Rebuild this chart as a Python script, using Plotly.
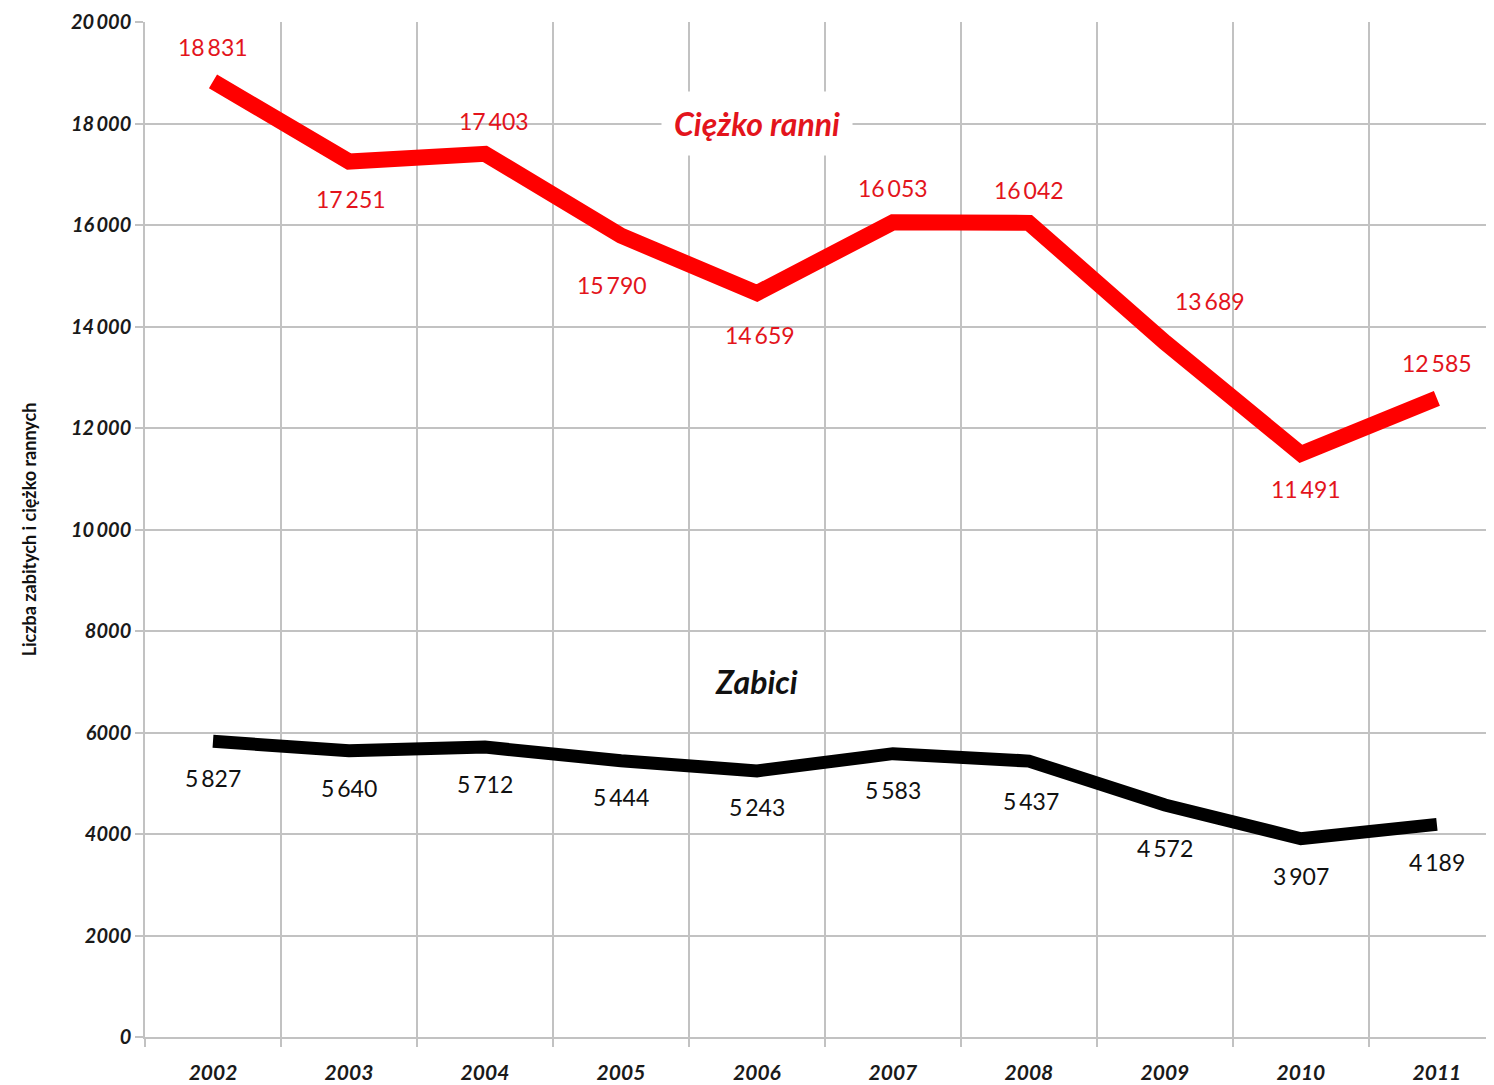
import plotly.graph_objects as go

years = ["2002", "2003", "2004", "2005", "2006", "2007", "2008", "2009", "2010", "2011"]
ranni = [18831, 17251, 17403, 15790, 14659, 16053, 16042, 13689, 11491, 12585]
zabici = [5827, 5640, 5712, 5444, 5243, 5583, 5437, 4572, 3907, 4189]
ytick_vals = [0, 2000, 4000, 6000, 8000, 10000, 12000, 14000, 16000, 18000, 20000]
ytick_text = ["0", "2000", "4000", "6000", "8000", "10\u2009000", "12\u2009000",
              "14\u2009000", "16\u2009000", "18\u2009000", "20\u2009000"]

# label offsets (pixels) relative to each point
ranni_off = [(0, 34), (2, -37), (9, 33), (-9, -49), (3, -42), (0, 34), (0, 33), (45, 41), (5, -35), (0, 35)]
zabici_off = [(0, -37), (0, -37), (0, -37), (0, -36), (0, -36), (0, -36), (2, -40), (0, -43), (0, -37), (0, -38)]

RED_LINE = "#ff0000"
RED_TXT = "#e3141c"
FONT = "Lato"

def fmt(v):
    return f"{v:,}".replace(",", "\u2009")

fig = go.Figure()
fig.add_trace(go.Scatter(x=years, y=ranni, mode="lines",
                         line=dict(color=RED_LINE, width=16), showlegend=False,
                         hoverinfo="skip"))
fig.add_trace(go.Scatter(x=years, y=zabici, mode="lines",
                         line=dict(color="#000000", width=13), showlegend=False,
                         hoverinfo="skip"))

for i, v in enumerate(ranni):
    dx, dy = ranni_off[i]
    fig.add_annotation(x=i, y=v, xref="x", yref="y", text=fmt(v), showarrow=False,
                       xshift=dx, yshift=dy,
                       font=dict(family=FONT, size=23, color=RED_TXT))
for i, v in enumerate(zabici):
    dx, dy = zabici_off[i]
    fig.add_annotation(x=i, y=v, xref="x", yref="y", text=fmt(v), showarrow=False,
                       xshift=dx, yshift=dy,
                       font=dict(family=FONT, size=23, color="#111111"))

fig.add_annotation(x=4, y=18000, xref="x", yref="y", text="<b><i>Ciężko ranni</i></b>",
                   showarrow=False, bgcolor="white", borderpad=12,
                   font=dict(family=FONT, size=32, color=RED_TXT))
fig.add_annotation(x=4, y=7000, xref="x", yref="y", text="<b><i>Zabici</i></b>",
                   showarrow=False, bgcolor="white", borderpad=14,
                   font=dict(family=FONT, size=32, color="#111111"))

fig.update_layout(
    width=1486, height=1077,
    margin=dict(l=137, r=0, t=14, b=48),
    paper_bgcolor="white", plot_bgcolor="white",
    xaxis=dict(type="category", range=[-0.5, 9.42], tickson="boundaries",
               showgrid=True, gridcolor="#c2c2c2", gridwidth=1.5,
               ticks="outside", ticklen=8, tickcolor="#c2c2c2", tickwidth=1.5,
               showline=True, linecolor="#c2c2c2", linewidth=1.5,
               tickfont=dict(family=FONT, size=21, color="#1a1a1a"),
               tickprefix="<b><i>", ticksuffix="</i></b>",
               ticklabelstandoff=16, zeroline=False),
    yaxis=dict(range=[0, 20000], tickvals=ytick_vals,
               ticktext=["<b><i>" + t + "</i></b>" for t in ytick_text],
               showgrid=True, gridcolor="#c2c2c2", gridwidth=1.5,
               ticks="outside", ticklen=8, tickcolor="#c2c2c2", tickwidth=1.5,
               showline=True, linecolor="#c2c2c2", linewidth=1.5,
               tickfont=dict(family=FONT, size=20, color="#1a1a1a"),
               zeroline=False,
               title=dict(text="<b>Liczba zabitych i ciężko rannych</b>",
                          font=dict(family=FONT, size=18, color="#111111"),
                          standoff=30)),
)

fig.write_html("out.html")
